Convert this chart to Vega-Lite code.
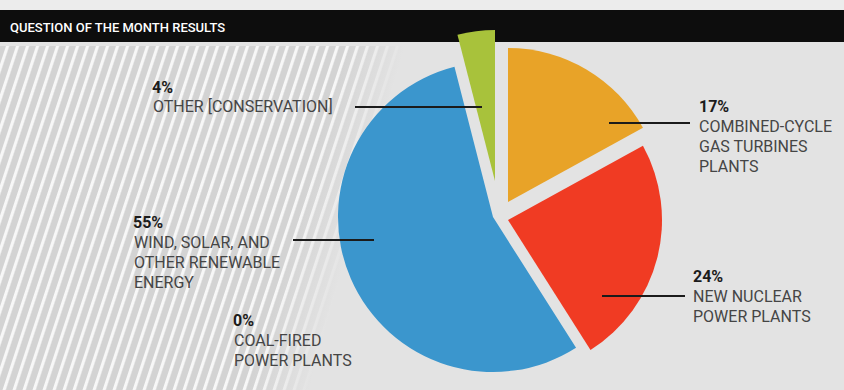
{
  "$schema": "https://vega.github.io/schema/vega-lite/v6.json",
  "width": 844,
  "height": 390,
  "autosize": {"type": "fit", "contains": "padding"},
  "padding": 0,
  "background": "#e3e3e3",
  "config": {"view": {"stroke": null}, "axis": {"disable": true}, "legend": {"disable": true}},
  "datasets": {
    "results": [
      {"key": "gas", "category": "Combined-cycle gas turbines plants", "share": 0.17, "label": "COMBINED-CYCLE\nGAS TURBINES\nPLANTS"},
      {"key": "nuclear", "category": "New nuclear power plants", "share": 0.24, "label": "NEW NUCLEAR\nPOWER PLANTS"},
      {"key": "renew", "category": "Wind, solar, and other renewable energy", "share": 0.55, "label": "WIND, SOLAR, AND\nOTHER RENEWABLE\nENERGY"},
      {"key": "other", "category": "Other (conservation)", "share": 0.04, "label": "OTHER [CONSERVATION]"},
      {"key": "coal", "category": "Coal-fired power plants", "share": 0.0, "label": "COAL-FIRED\nPOWER PLANTS"}
    ]
  },
  "layer": [
    {
      "data": {"values": [{}]},
      "mark": {"type": "rect", "fill": "#ececec"},
      "encoding": {
        "x": {"datum": 0, "type": "quantitative", "scale": {"domain": [0, 844], "nice": false, "zero": false}},
        "x2": {"datum": 844},
        "y": {"datum": 0, "type": "quantitative", "scale": {"domain": [0, 390], "nice": false, "zero": false, "reverse": true}},
        "y2": {"datum": 10}
      }
    },
    {
      "data": {"values": [{}]},
      "mark": {"type": "rect", "fill": {"gradient": "linear", "x1": 0, "y1": 0, "x2": 0.9865, "y2": 0.2333, "stops": [
        {"offset": 0, "color": "#d3d3d3"}, {"offset": 0.011, "color": "#d3d3d3"}, {"offset": 0.013, "color": "#f7f7f7"}, {"offset": 0.017, "color": "#f7f7f7"},
        {"offset": 0.02, "color": "#d3d3d3"}, {"offset": 0.031, "color": "#d3d3d3"}, {"offset": 0.033, "color": "#f7f7f7"}, {"offset": 0.037, "color": "#f7f7f7"},
        {"offset": 0.04, "color": "#d3d3d3"}, {"offset": 0.051, "color": "#d3d3d3"}, {"offset": 0.053, "color": "#f7f7f7"}, {"offset": 0.057, "color": "#f7f7f7"},
        {"offset": 0.06, "color": "#d3d3d3"}, {"offset": 0.071, "color": "#d3d3d3"}, {"offset": 0.073, "color": "#f7f7f7"}, {"offset": 0.077, "color": "#f7f7f7"},
        {"offset": 0.08, "color": "#d3d3d3"}, {"offset": 0.091, "color": "#d3d3d3"}, {"offset": 0.093, "color": "#f7f7f7"}, {"offset": 0.097, "color": "#f7f7f7"},
        {"offset": 0.1, "color": "#d3d3d3"}, {"offset": 0.111, "color": "#d3d3d3"}, {"offset": 0.113, "color": "#f7f7f7"}, {"offset": 0.117, "color": "#f7f7f7"},
        {"offset": 0.12, "color": "#d3d3d3"}, {"offset": 0.131, "color": "#d3d3d3"}, {"offset": 0.133, "color": "#f7f7f7"}, {"offset": 0.137, "color": "#f7f7f7"},
        {"offset": 0.14, "color": "#d3d3d3"}, {"offset": 0.151, "color": "#d3d3d3"}, {"offset": 0.153, "color": "#f7f7f7"}, {"offset": 0.157, "color": "#f7f7f7"},
        {"offset": 0.16, "color": "#d3d3d3"}, {"offset": 0.171, "color": "#d3d3d3"}, {"offset": 0.173, "color": "#f7f7f7"}, {"offset": 0.177, "color": "#f7f7f7"},
        {"offset": 0.18, "color": "#d3d3d3"}, {"offset": 0.191, "color": "#d3d3d3"}, {"offset": 0.193, "color": "#f7f7f7"}, {"offset": 0.197, "color": "#f7f7f7"},
        {"offset": 0.2, "color": "#d3d3d3"}, {"offset": 0.211, "color": "#d3d3d3"}, {"offset": 0.213, "color": "#f7f7f7"}, {"offset": 0.217, "color": "#f7f7f7"},
        {"offset": 0.22, "color": "#d3d3d3"}, {"offset": 0.231, "color": "#d3d3d3"}, {"offset": 0.233, "color": "#f7f7f7"}, {"offset": 0.237, "color": "#f7f7f7"},
        {"offset": 0.24, "color": "#d3d3d3"}, {"offset": 0.251, "color": "#d3d3d3"}, {"offset": 0.253, "color": "#f7f7f7"}, {"offset": 0.257, "color": "#f7f7f7"},
        {"offset": 0.26, "color": "#d3d3d3"}, {"offset": 0.271, "color": "#d3d3d3"}, {"offset": 0.273, "color": "#f7f7f7"}, {"offset": 0.277, "color": "#f7f7f7"},
        {"offset": 0.28, "color": "#d3d3d3"}, {"offset": 0.291, "color": "#d3d3d3"}, {"offset": 0.293, "color": "#f7f7f7"}, {"offset": 0.297, "color": "#f7f7f7"},
        {"offset": 0.3, "color": "#d3d3d3"}, {"offset": 0.311, "color": "#d3d3d3"}, {"offset": 0.313, "color": "#f7f7f7"}, {"offset": 0.317, "color": "#f7f7f7"},
        {"offset": 0.32, "color": "#d3d3d3"}, {"offset": 0.331, "color": "#d3d3d3"}, {"offset": 0.333, "color": "#f7f7f7"}, {"offset": 0.337, "color": "#f7f7f7"},
        {"offset": 0.34, "color": "#d3d3d3"}, {"offset": 0.351, "color": "#d3d3d3"}, {"offset": 0.353, "color": "#f7f7f7"}, {"offset": 0.357, "color": "#f7f7f7"},
        {"offset": 0.36, "color": "#d3d3d3"}, {"offset": 0.371, "color": "#d3d3d3"}, {"offset": 0.373, "color": "#f7f7f7"}, {"offset": 0.377, "color": "#f7f7f7"},
        {"offset": 0.38, "color": "#d3d3d3"}, {"offset": 0.391, "color": "#d3d3d3"}, {"offset": 0.393, "color": "#f7f7f7"}, {"offset": 0.397, "color": "#f7f7f7"},
        {"offset": 0.4, "color": "#d3d3d3"}, {"offset": 0.411, "color": "#d3d3d3"}, {"offset": 0.413, "color": "#f7f7f7"}, {"offset": 0.417, "color": "#f7f7f7"},
        {"offset": 0.42, "color": "#d3d3d3"}, {"offset": 0.431, "color": "#d3d3d3"}, {"offset": 0.433, "color": "#f7f7f7"}, {"offset": 0.437, "color": "#f7f7f7"},
        {"offset": 0.44, "color": "#d3d3d3"}, {"offset": 0.451, "color": "#d3d3d3"}, {"offset": 0.453, "color": "#f7f7f7"}, {"offset": 0.457, "color": "#f7f7f7"},
        {"offset": 0.46, "color": "#d3d3d3"}, {"offset": 0.471, "color": "#d3d3d3"}, {"offset": 0.473, "color": "#f7f7f7"}, {"offset": 0.477, "color": "#f7f7f7"},
        {"offset": 0.48, "color": "#d3d3d3"}, {"offset": 0.491, "color": "#d3d3d3"}, {"offset": 0.493, "color": "#f7f7f7"}, {"offset": 0.497, "color": "#f7f7f7"},
        {"offset": 0.5, "color": "#d3d3d3"}, {"offset": 0.511, "color": "#d3d3d3"}, {"offset": 0.513, "color": "#f7f7f7"}, {"offset": 0.517, "color": "#f7f7f7"},
        {"offset": 0.52, "color": "#d3d3d3"}, {"offset": 0.531, "color": "#d3d3d3"}, {"offset": 0.533, "color": "#f7f7f7"}, {"offset": 0.537, "color": "#f7f7f7"},
        {"offset": 0.54, "color": "#d3d3d3"}, {"offset": 0.551, "color": "#d3d3d3"}, {"offset": 0.553, "color": "#f7f7f7"}, {"offset": 0.557, "color": "#f7f7f7"},
        {"offset": 0.56, "color": "#d3d3d3"}, {"offset": 0.571, "color": "#d3d3d3"}, {"offset": 0.573, "color": "#f7f7f7"}, {"offset": 0.577, "color": "#f7f7f7"},
        {"offset": 0.58, "color": "#d3d3d3"}, {"offset": 0.591, "color": "#d3d3d3"}, {"offset": 0.593, "color": "#f7f7f7"}, {"offset": 0.597, "color": "#f7f7f7"},
        {"offset": 0.6, "color": "#d3d3d3"}, {"offset": 0.611, "color": "#d3d3d3"}, {"offset": 0.613, "color": "#f7f7f7"}, {"offset": 0.617, "color": "#f7f7f7"},
        {"offset": 0.62, "color": "#d3d3d3"}, {"offset": 0.631, "color": "#d3d3d3"}, {"offset": 0.633, "color": "#f7f7f7"}, {"offset": 0.637, "color": "#f7f7f7"},
        {"offset": 0.64, "color": "#d3d3d3"}, {"offset": 0.651, "color": "#d3d3d3"}, {"offset": 0.653, "color": "#f7f7f7"}, {"offset": 0.657, "color": "#f7f7f7"},
        {"offset": 0.66, "color": "#d3d3d3"}, {"offset": 0.671, "color": "#d3d3d3"}, {"offset": 0.673, "color": "#f7f7f7"}, {"offset": 0.677, "color": "#f7f7f7"},
        {"offset": 0.68, "color": "#d3d3d3"}, {"offset": 0.691, "color": "#d3d3d3"}, {"offset": 0.693, "color": "#f7f7f7"}, {"offset": 0.697, "color": "#f7f7f7"},
        {"offset": 0.7, "color": "#d3d3d3"}, {"offset": 0.711, "color": "#d3d3d3"}, {"offset": 0.713, "color": "#f7f7f7"}, {"offset": 0.717, "color": "#f7f7f7"},
        {"offset": 0.72, "color": "#d3d3d3"}, {"offset": 0.731, "color": "#d3d3d3"}, {"offset": 0.733, "color": "#f7f7f7"}, {"offset": 0.737, "color": "#f7f7f7"},
        {"offset": 0.74, "color": "#d3d3d3"}, {"offset": 0.751, "color": "#d3d3d3"}, {"offset": 0.753, "color": "#f7f7f7"}, {"offset": 0.757, "color": "#f7f7f7"},
        {"offset": 0.76, "color": "#d3d3d3"}, {"offset": 0.771, "color": "#d3d3d3"}, {"offset": 0.773, "color": "#f7f7f7"}, {"offset": 0.777, "color": "#f7f7f7"},
        {"offset": 0.78, "color": "#d3d3d3"}, {"offset": 0.791, "color": "#d3d3d3"}, {"offset": 0.793, "color": "#f7f7f7"}, {"offset": 0.797, "color": "#f7f7f7"},
        {"offset": 0.8, "color": "#d3d3d3"}, {"offset": 0.811, "color": "#d3d3d3"}, {"offset": 0.813, "color": "#f7f7f7"}, {"offset": 0.817, "color": "#f7f7f7"},
        {"offset": 0.82, "color": "#d3d3d3"}, {"offset": 0.831, "color": "#d3d3d3"}, {"offset": 0.833, "color": "#f7f7f7"}, {"offset": 0.837, "color": "#f7f7f7"},
        {"offset": 0.84, "color": "#d3d3d3"}, {"offset": 0.851, "color": "#d3d3d3"}, {"offset": 0.853, "color": "#f7f7f7"}, {"offset": 0.857, "color": "#f7f7f7"},
        {"offset": 0.86, "color": "#d3d3d3"}, {"offset": 0.871, "color": "#d3d3d3"}, {"offset": 0.873, "color": "#f7f7f7"}, {"offset": 0.877, "color": "#f7f7f7"},
        {"offset": 0.88, "color": "#d3d3d3"}, {"offset": 0.891, "color": "#d3d3d3"}, {"offset": 0.893, "color": "#f7f7f7"}, {"offset": 0.897, "color": "#f7f7f7"},
        {"offset": 0.9, "color": "#d3d3d3"}, {"offset": 0.911, "color": "#d3d3d3"}, {"offset": 0.913, "color": "#f7f7f7"}, {"offset": 0.917, "color": "#f7f7f7"},
        {"offset": 0.92, "color": "#d3d3d3"}, {"offset": 0.931, "color": "#d3d3d3"}, {"offset": 0.933, "color": "#f7f7f7"}, {"offset": 0.937, "color": "#f7f7f7"},
        {"offset": 0.94, "color": "#d3d3d3"}, {"offset": 0.951, "color": "#d3d3d3"}, {"offset": 0.953, "color": "#f7f7f7"}, {"offset": 0.957, "color": "#f7f7f7"},
        {"offset": 0.96, "color": "#d3d3d3"}, {"offset": 0.971, "color": "#d3d3d3"}, {"offset": 0.973, "color": "#f7f7f7"}, {"offset": 0.977, "color": "#f7f7f7"},
        {"offset": 0.98, "color": "#d3d3d3"}, {"offset": 0.991, "color": "#d3d3d3"}, {"offset": 0.993, "color": "#f7f7f7"}, {"offset": 0.997, "color": "#f7f7f7"},
        {"offset": 1, "color": "#d3d3d3"}
      ]}},
      "encoding": {
        "x": {"datum": 0, "type": "quantitative"},
        "x2": {"datum": 480},
        "y": {"datum": 46, "type": "quantitative"},
        "y2": {"datum": 390}
      }
    },
    {
      "data": {"values": [{}]},
      "mark": {"type": "rect", "fill": {"gradient": "linear", "x1": 0, "y1": 0, "x2": 1, "y2": 0.344, "stops": [
        {"offset": 0, "color": "rgba(227,227,227,0)"},
        {"offset": 0.463, "color": "rgba(227,227,227,0)"},
        {"offset": 0.56, "color": "rgba(227,227,227,0.5)"},
        {"offset": 0.655, "color": "rgba(227,227,227,1)"},
        {"offset": 1, "color": "rgba(227,227,227,1)"}
      ]}},
      "encoding": {
        "x": {"datum": 200, "type": "quantitative"},
        "x2": {"datum": 480},
        "y": {"datum": 46, "type": "quantitative"},
        "y2": {"datum": 390}
      }
    },
    {
      "data": {"values": [{}]},
      "mark": {"type": "rect", "fill": "#0d0d0d"},
      "encoding": {
        "x": {"datum": 0, "type": "quantitative"},
        "x2": {"datum": 844},
        "y": {"datum": 10, "type": "quantitative"},
        "y2": {"datum": 42}
      }
    },
    {
      "data": {"values": [{}]},
      "mark": {"type": "text", "text": "QUESTION OF THE MONTH RESULTS", "align": "left", "baseline": "alphabetic", "font": "Roboto", "fontSize": 13, "fontWeight": 500, "color": "#ffffff"},
      "encoding": {
        "x": {"datum": 10, "type": "quantitative"},
        "y": {"datum": 32, "type": "quantitative"}
      }
    },
    {
      "data": {"name": "results"},
      "transform": [{"stack": "share", "groupby": [], "as": ["t0", "t1"]}, {"filter": "datum.key === 'gas'"}],
      "mark": {"type": "arc", "radius": 154, "color": "#e8a328"},
      "encoding": {
        "theta": {"field": "t0", "type": "quantitative", "scale": {"domain": [0, 1]}},
        "theta2": {"field": "t1"},
        "x": {"datum": 508, "type": "quantitative"},
        "y": {"datum": 202, "type": "quantitative"}
      }
    },
    {
      "data": {"name": "results"},
      "transform": [{"stack": "share", "groupby": [], "as": ["t0", "t1"]}, {"filter": "datum.key === 'nuclear'"}],
      "mark": {"type": "arc", "radius": 154, "color": "#f03b23"},
      "encoding": {
        "theta": {"field": "t0", "type": "quantitative"},
        "theta2": {"field": "t1"},
        "x": {"datum": 508, "type": "quantitative"},
        "y": {"datum": 220, "type": "quantitative"}
      }
    },
    {
      "data": {"name": "results"},
      "transform": [{"stack": "share", "groupby": [], "as": ["t0", "t1"]}, {"filter": "datum.key === 'renew'"}],
      "mark": {"type": "arc", "radius": 155, "color": "#3b96cd"},
      "encoding": {
        "theta": {"field": "t0", "type": "quantitative"},
        "theta2": {"field": "t1"},
        "x": {"datum": 493, "type": "quantitative"},
        "y": {"datum": 217, "type": "quantitative"}
      }
    },
    {
      "data": {"name": "results"},
      "transform": [{"stack": "share", "groupby": [], "as": ["t0", "t1"]}, {"filter": "datum.key === 'other'"}],
      "mark": {"type": "arc", "radius": 151, "color": "#a8c23b"},
      "encoding": {
        "theta": {"field": "t0", "type": "quantitative"},
        "theta2": {"field": "t1"},
        "x": {"datum": 495, "type": "quantitative"},
        "y": {"datum": 181, "type": "quantitative"}
      }
    },
    {
      "data": {"values": [{}]},
      "mark": {"type": "rule", "color": "#1b1b1b", "strokeWidth": 2},
      "encoding": {"x": {"datum": 355, "type": "quantitative"}, "x2": {"datum": 482}, "y": {"datum": 107, "type": "quantitative"}}
    },
    {
      "data": {"values": [{}]},
      "mark": {"type": "rule", "color": "#1b1b1b", "strokeWidth": 2},
      "encoding": {"x": {"datum": 609, "type": "quantitative"}, "x2": {"datum": 690}, "y": {"datum": 123, "type": "quantitative"}}
    },
    {
      "data": {"values": [{}]},
      "mark": {"type": "rule", "color": "#1b1b1b", "strokeWidth": 2},
      "encoding": {"x": {"datum": 293, "type": "quantitative"}, "x2": {"datum": 374}, "y": {"datum": 240, "type": "quantitative"}}
    },
    {
      "data": {"values": [{}]},
      "mark": {"type": "rule", "color": "#1b1b1b", "strokeWidth": 2},
      "encoding": {"x": {"datum": 602, "type": "quantitative"}, "x2": {"datum": 685}, "y": {"datum": 296, "type": "quantitative"}}
    },
    {
      "data": {"name": "results"},
      "transform": [{"filter": "datum.key === 'other'"}],
      "mark": {"type": "text", "align": "left", "baseline": "alphabetic", "font": "Roboto", "fontSize": 16, "fontWeight": "bold", "color": "#1c1c1c"},
      "encoding": {"text": {"field": "share", "type": "quantitative", "format": ".0%"}, "x": {"datum": 152, "type": "quantitative"}, "y": {"datum": 93, "type": "quantitative"}}
    },
    {
      "data": {"name": "results"},
      "transform": [{"filter": "datum.key === 'gas'"}],
      "mark": {"type": "text", "align": "left", "baseline": "alphabetic", "font": "Roboto", "fontSize": 16, "fontWeight": "bold", "color": "#1c1c1c"},
      "encoding": {"text": {"field": "share", "type": "quantitative", "format": ".0%"}, "x": {"datum": 699, "type": "quantitative"}, "y": {"datum": 112, "type": "quantitative"}}
    },
    {
      "data": {"name": "results"},
      "transform": [{"filter": "datum.key === 'renew'"}],
      "mark": {"type": "text", "align": "left", "baseline": "alphabetic", "font": "Roboto", "fontSize": 16, "fontWeight": "bold", "color": "#1c1c1c"},
      "encoding": {"text": {"field": "share", "type": "quantitative", "format": ".0%"}, "x": {"datum": 133, "type": "quantitative"}, "y": {"datum": 228, "type": "quantitative"}}
    },
    {
      "data": {"name": "results"},
      "transform": [{"filter": "datum.key === 'coal'"}],
      "mark": {"type": "text", "align": "left", "baseline": "alphabetic", "font": "Roboto", "fontSize": 16, "fontWeight": "bold", "color": "#1c1c1c"},
      "encoding": {"text": {"field": "share", "type": "quantitative", "format": ".0%"}, "x": {"datum": 233, "type": "quantitative"}, "y": {"datum": 326, "type": "quantitative"}}
    },
    {
      "data": {"name": "results"},
      "transform": [{"filter": "datum.key === 'nuclear'"}],
      "mark": {"type": "text", "align": "left", "baseline": "alphabetic", "font": "Roboto", "fontSize": 16, "fontWeight": "bold", "color": "#1c1c1c"},
      "encoding": {"text": {"field": "share", "type": "quantitative", "format": ".0%"}, "x": {"datum": 693, "type": "quantitative"}, "y": {"datum": 282, "type": "quantitative"}}
    },
    {
      "data": {"name": "results"},
      "transform": [{"filter": "datum.key === 'other'"}],
      "mark": {"type": "text", "align": "left", "baseline": "alphabetic", "font": "Roboto", "fontSize": 16, "color": "#454545", "lineBreak": "\n", "lineHeight": 20},
      "encoding": {"text": {"field": "label", "type": "nominal"}, "x": {"datum": 153, "type": "quantitative"}, "y": {"datum": 112, "type": "quantitative"}}
    },
    {
      "data": {"name": "results"},
      "transform": [{"filter": "datum.key === 'gas'"}],
      "mark": {"type": "text", "align": "left", "baseline": "alphabetic", "font": "Roboto", "fontSize": 16, "color": "#454545", "lineBreak": "\n", "lineHeight": 20},
      "encoding": {"text": {"field": "label", "type": "nominal"}, "x": {"datum": 699, "type": "quantitative"}, "y": {"datum": 132, "type": "quantitative"}}
    },
    {
      "data": {"name": "results"},
      "transform": [{"filter": "datum.key === 'renew'"}],
      "mark": {"type": "text", "align": "left", "baseline": "alphabetic", "font": "Roboto", "fontSize": 16, "color": "#454545", "lineBreak": "\n", "lineHeight": 20},
      "encoding": {"text": {"field": "label", "type": "nominal"}, "x": {"datum": 134, "type": "quantitative"}, "y": {"datum": 248, "type": "quantitative"}}
    },
    {
      "data": {"name": "results"},
      "transform": [{"filter": "datum.key === 'coal'"}],
      "mark": {"type": "text", "align": "left", "baseline": "alphabetic", "font": "Roboto", "fontSize": 16, "color": "#454545", "lineBreak": "\n", "lineHeight": 20},
      "encoding": {"text": {"field": "label", "type": "nominal"}, "x": {"datum": 234, "type": "quantitative"}, "y": {"datum": 346, "type": "quantitative"}}
    },
    {
      "data": {"name": "results"},
      "transform": [{"filter": "datum.key === 'nuclear'"}],
      "mark": {"type": "text", "align": "left", "baseline": "alphabetic", "font": "Roboto", "fontSize": 16, "color": "#454545", "lineBreak": "\n", "lineHeight": 20},
      "encoding": {"text": {"field": "label", "type": "nominal"}, "x": {"datum": 693, "type": "quantitative"}, "y": {"datum": 302, "type": "quantitative"}}
    }
  ]
}
